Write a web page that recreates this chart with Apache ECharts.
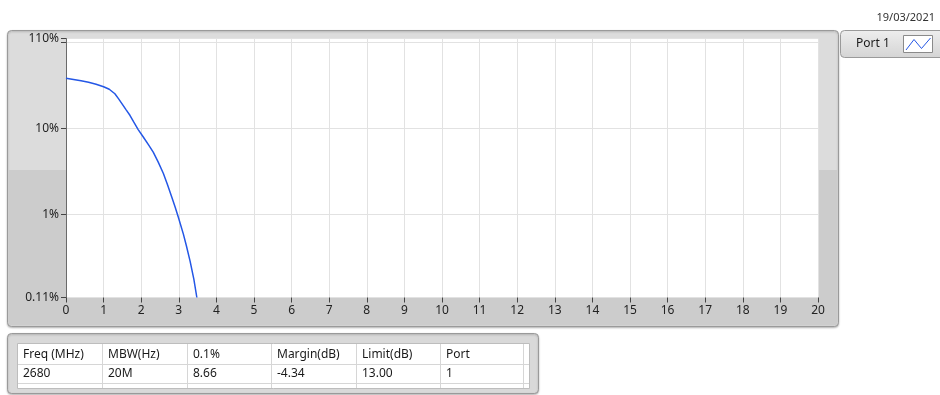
<!DOCTYPE html>
<html>
<head>
<meta charset="utf-8">
<script src="https://cdn.jsdelivr.net/npm/echarts@6/dist/echarts.min.js"></script>
<style>
  html, body { margin: 0; padding: 0; background: #ffffff; }
  #chart { width: 940px; height: 395px; }
</style>
</head>
<body>
<div id="chart"></div>
<script>
// Spectrum mask: level (% of peak) against offset frequency (MHz)
const freqMHz = [0, 0.2, 0.4, 0.6, 0.8, 1.0, 1.15, 1.3, 1.4, 1.5, 1.6, 1.7, 1.8, 1.92,
                 2.06, 2.2, 2.32, 2.45, 2.59, 2.7, 2.81, 2.9, 2.99, 3.12, 3.2, 3.3, 3.4, 3.48];
const levelPct = [38.0, 36.8, 35.6, 34.3, 32.5, 30.4, 28.4, 25.2, 22.0, 19.0, 16.4, 14.2, 11.9, 9.7,
                  7.9, 6.4, 5.3, 4.1, 3.0, 2.23, 1.62, 1.24, 0.93, 0.60, 0.44, 0.29, 0.18, 0.11];
const seriesName = 'Port 1';
const yMin = 0.11, yMax = 110;
const xMin = 0, xMax = 20, xStep = 1;
const dateText = '19/03/2021';

// Result table
const tableHeaders = ['Freq (MHz)', 'MBW(Hz)', '0.1%', 'Margin(dB)', 'Limit(dB)', 'Port'];
const tableRow = ['2680', '20M', '8.66', '-4.34', '13.00', '1'];

const FONT = 'Noto Sans';
const colX = [17, 102, 187, 271, 356, 440, 523];

const chart = echarts.init(document.getElementById('chart'), null, { renderer: 'canvas' });

const graphics = [
  // chart frame
  { type: 'rect', z: -20, shape: { x: 7.5, y: 30.5, width: 831, height: 296, r: 4 },
    style: { fill: '#dcdcdc', stroke: '#9a9a9a', lineWidth: 1, shadowBlur: 2, shadowColor: 'rgba(0,0,0,0.25)', shadowOffsetY: 1 } },
  { type: 'rect', z: -19, shape: { x: 8.5, y: 170, width: 829, height: 155.5, r: [0, 0, 3, 3] },
    style: { fill: '#cccccc' } },
  // legend frame and its white key box
  { type: 'rect', z: -20, shape: { x: 840.5, y: 30.5, width: 110, height: 27, r: 4 },
    style: { fill: new echarts.graphic.LinearGradient(0, 0, 0, 1, [
      { offset: 0, color: '#eeeeee' }, { offset: 1, color: '#d4d4d4' }]), stroke: '#9a9a9a', lineWidth: 1 } },
  { type: 'rect', z: 90, shape: { x: 903.5, y: 35.5, width: 29, height: 17 },
    style: { fill: '#ffffff', stroke: '#8a8a8a', lineWidth: 1 } },
  { type: 'polyline', z: 100, shape: { points: [[906, 50], [914, 39.5], [921.5, 48.5], [930.5, 38]] },
    style: { stroke: '#2457e6', lineWidth: 1, fill: null } },
  // date
  { type: 'text', z: 10, style: { text: dateText, x: 935, y: 18, align: 'right', verticalAlign: 'middle',
    font: '11px "' + FONT + '"', fill: '#333333' } },
  // table frame
  { type: 'rect', z: -20, shape: { x: 7.5, y: 333.5, width: 531, height: 60, r: 4 },
    style: { fill: '#d9d9d9', stroke: '#9a9a9a', lineWidth: 1, shadowBlur: 2, shadowColor: 'rgba(0,0,0,0.25)', shadowOffsetY: 1 } },
  { type: 'rect', z: -18, shape: { x: 17.5, y: 343.5, width: 512, height: 45 },
    style: { fill: '#ffffff', stroke: '#bdbdbd', lineWidth: 1 } },
  { type: 'line', z: -17, shape: { x1: 18, y1: 364.5, x2: 529, y2: 364.5 }, style: { stroke: '#d6d6d6', lineWidth: 1 } },
  { type: 'line', z: -17, shape: { x1: 18, y1: 383.5, x2: 529, y2: 383.5 }, style: { stroke: '#d6d6d6', lineWidth: 1 } }
];
for (let i = 1; i < colX.length; i++) {
  graphics.push({ type: 'line', z: -17, shape: { x1: colX[i] + 0.5, y1: 344, x2: colX[i] + 0.5, y2: 388 },
    style: { stroke: '#d6d6d6', lineWidth: 1 } });
}
tableHeaders.forEach((h, i) => {
  graphics.push({ type: 'text', z: 10, style: { text: h, x: colX[i] + 6, y: 354.5, verticalAlign: 'middle',
    font: '12px "' + FONT + '"', fill: '#1a1a1a' } });
});
tableRow.forEach((v, i) => {
  graphics.push({ type: 'text', z: 10, style: { text: v, x: colX[i] + 6, y: 374, verticalAlign: 'middle',
    font: '12px "' + FONT + '"', fill: '#1a1a1a' } });
});

function fmtPct(v) {
  const r = Math.round(v * 1000) / 1000;
  if (Math.abs(r - 100) < 1e-6) return '';
  return (+r.toPrecision(3)) + '%';
}

const option = {
  animation: false,
  textStyle: { fontFamily: FONT },
  grid: { left: 66, right: 122, top: 38.5, bottom: 97.5, show: true, backgroundColor: '#ffffff', borderWidth: 0, containLabel: false },
  legend: {
    data: [seriesName], left: 851, top: 35.5, padding: 0, icon: 'none', itemWidth: 0, itemHeight: 17,
    textStyle: { fontFamily: FONT, fontSize: 12, color: '#1a1a1a' },
    selectedMode: false
  },
  xAxis: {
    type: 'value', min: xMin, max: xMax, interval: xStep,
    axisLine: { show: false },
    axisTick: { show: true, inside: false, length: 5, lineStyle: { color: '#444444' } },
    axisLabel: { margin: 7, fontSize: 12, color: '#222222', fontFamily: FONT },
    splitLine: { show: true, lineStyle: { color: '#e2e2e2', width: 1 } }
  },
  yAxis: {
    type: 'log', logBase: 10, min: yMin, max: yMax,
    axisLine: { show: true, lineStyle: { color: '#6a6a6a', width: 1 } },
    axisTick: { show: true, inside: false, length: 5, lineStyle: { color: '#444444' } },
    axisLabel: { margin: 7, fontSize: 12, color: '#222222', fontFamily: FONT, formatter: fmtPct },
    splitLine: { show: true, lineStyle: { color: '#e2e2e2', width: 1 } }
  },
  series: [{
    name: seriesName, type: 'line', showSymbol: false, symbol: 'none', smooth: false,
    lineStyle: { color: '#2457e6', width: 1.5 }, itemStyle: { color: '#2457e6' },
    data: freqMHz.map((f, i) => [f, levelPct[i]])
  }],
  graphic: graphics
};
chart.setOption(option);
</script>
</body>
</html>
